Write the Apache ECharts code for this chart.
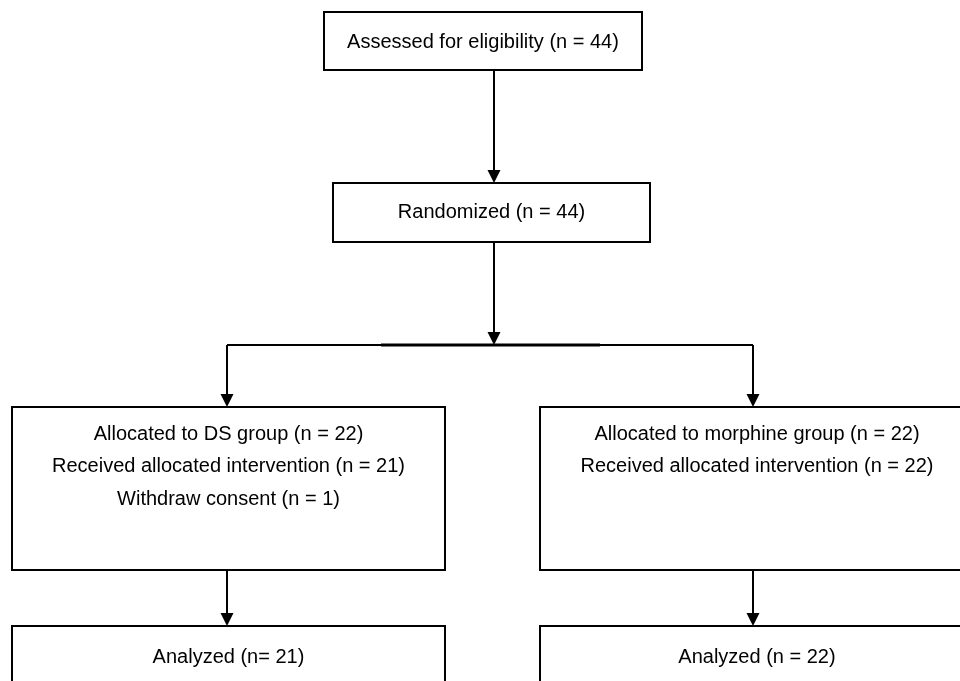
<!DOCTYPE html>
<html>
<head>
<meta charset="utf-8">
<script src="https://cdn.jsdelivr.net/npm/echarts@6/dist/echarts.min.js"></script>
<style>
html,body{margin:0;padding:0;background:#fff;}
#chart{width:960px;height:681px;}
</style>
</head>
<body>
<div id="chart"></div>
<script>
// Flow boxes: text lines
const boxTexts = [
  ["Assessed for eligibility (n = 44)"],
  ["Randomized (n = 44)"],
  ["Allocated to DS group (n = 22)", "Received allocated intervention (n = 21)", "Withdraw consent (n = 1)"],
  ["Allocated to morphine group (n = 22)", "Received allocated intervention (n = 22)"],
  ["Analyzed (n= 21)"],
  ["Analyzed (n = 22)"]
];
// Box extents in flow-chart coordinates
const boxX1 = [324, 333, 12, 540, 12, 540];
const boxY1 = [12, 183, 407, 407, 626, 626];
const boxX2 = [642, 650, 445, 974, 445, 974];
const boxY2 = [70, 242, 570, 570, 688, 688];
// First text line y and line spacing
const textY0 = [42, 212, 434, 434, 657, 657];
const textStep = 32.5;

// Connectors: [x1, y1, x2, y2, hasArrow]
const connectors = [
  [494, 70, 494, 183, 1],
  [494, 242, 494, 345, 1],
  [227, 345, 753, 345, 0],
  [227, 345, 227, 407, 1],
  [753, 345, 753, 407, 1],
  [227, 570, 227, 626, 1],
  [753, 570, 753, 626, 1]
];
const thickSegment = [[381, 345, 600, 345, 0]];

const chart = echarts.init(document.getElementById('chart'), null, {renderer: 'canvas'});

const boxData = boxX1.map((x, i) => [x, boxY1[i], boxX2[i], boxY2[i], i]);

function renderBox(params, api) {
  const i = api.value(4);
  const p1 = api.coord([api.value(0), api.value(1)]);
  const p2 = api.coord([api.value(2), api.value(3)]);
  const cx = (p1[0] + p2[0]) / 2;
  const children = [{
    type: 'rect',
    shape: {x: p1[0], y: p1[1], width: p2[0] - p1[0], height: p2[1] - p1[1]},
    style: {fill: '#fff', stroke: '#000', lineWidth: 2}
  }];
  boxTexts[i].forEach((t, k) => {
    const ty = api.coord([0, textY0[i] + k * textStep])[1];
    children.push({
      type: 'text',
      x: cx, y: ty,
      style: {
        text: t, fill: '#000',
        font: '20px "Liberation Sans", Arial, sans-serif',
        textAlign: 'center', textVerticalAlign: 'middle'
      }
    });
  });
  return {type: 'group', children};
}

function makeConnRender(lw) {
  return function (params, api) {
    const a = api.coord([api.value(0), api.value(1)]);
    const b = api.coord([api.value(2), api.value(3)]);
    const arrow = api.value(4);
    const children = [];
    const ah = 13, aw = 6.5;
    let end = b.slice();
    if (arrow) {
      const dx = b[0] - a[0], dy = b[1] - a[1];
      const len = Math.sqrt(dx * dx + dy * dy);
      const ux = dx / len, uy = dy / len;
      end = [b[0] - ux * ah, b[1] - uy * ah];
      children.push({
        type: 'polygon',
        shape: {points: [
          [b[0], b[1]],
          [end[0] - uy * aw, end[1] + ux * aw],
          [end[0] + uy * aw, end[1] - ux * aw]
        ]},
        style: {fill: '#000'}
      });
    }
    children.unshift({
      type: 'line',
      shape: {x1: a[0], y1: a[1], x2: end[0], y2: end[1]},
      style: {stroke: '#000', lineWidth: lw}
    });
    return {type: 'group', children};
  };
}

chart.setOption({
  animation: false,
  backgroundColor: '#fff',
  grid: {left: 0, right: 0, top: 0, bottom: 0},
  xAxis: {type: 'value', min: 0, max: 960, show: false},
  yAxis: {type: 'value', min: 0, max: 681, inverse: true, show: false},
  series: [
    {
      type: 'custom',
      coordinateSystem: 'cartesian2d',
      data: connectors,
      renderItem: makeConnRender(2),
      clip: false,
      z: 1
    },
    {
      type: 'custom',
      coordinateSystem: 'cartesian2d',
      data: thickSegment,
      renderItem: makeConnRender(2.8),
      clip: false,
      z: 1
    },
    {
      type: 'custom',
      coordinateSystem: 'cartesian2d',
      data: boxData,
      renderItem: renderBox,
      clip: false,
      z: 2
    }
  ]
});
</script>
</body>
</html>
